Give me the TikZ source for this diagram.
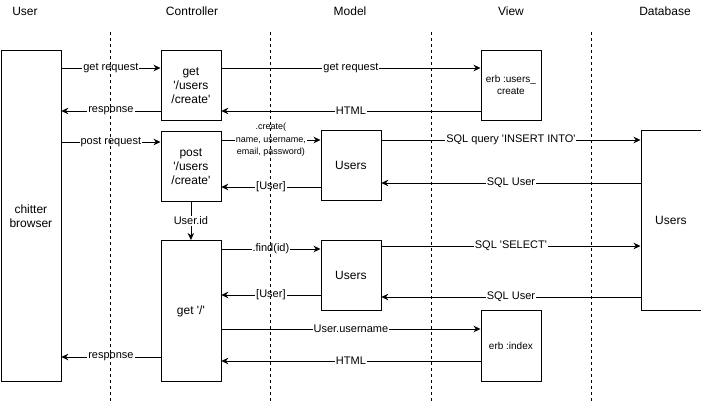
\documentclass[tikz,border=0pt]{standalone}
\usepackage{fontspec}
\setmainfont{Liberation Sans}
\usepackage{tikz}
\usetikzlibrary{arrows.meta, positioning, calc}
\newcommand{\q}{\textquotesingle}

\begin{document}
\begin{tikzpicture}[x=1pt, y=-1pt,
  box/.style={draw, line width=0.8pt, minimum width=60pt, inner sep=2pt, align=center, anchor=north west, font=\fontsize{12}{14}\selectfont},
  small/.style={font=\fontsize{10}{12}\selectfont},
  head/.style={font=\fontsize{12}{14}\selectfont},
  lane/.style={line width=0.7pt, dash pattern=on 3pt off 3pt},
  msg/.style={-{Stealth[length=7pt, width=6.5pt]}, line width=0.8pt},
  lab/.style={fill=white, inner sep=1pt, font=\fontsize{11}{13}\selectfont}
]
\useasboundingbox (0,0) rectangle (701,402);

% column headers
\node[head] (hUser) at (25,11) {User};
\node[head] (hCtl) at (192,11) {Controller};
\node[head] (hModel) at (350,11) {Model};
\node[head] (hView) at (511,11) {View};
\node[head] (hDb) at (665,11) {Database};

% boxes
\node[box, minimum height=331pt] (browser) at (0.5,50) {chitter\\browser};
\node[box, minimum height=70pt] (getform) at (160.5,50) {get\\\q/users\\/create\q};
\node[box, small, minimum height=70pt] (erbcreate) at (480.5,50) {erb :users\_\\create};
\node[box, minimum height=70pt] (postform) at (160.5,131) {post\\\q/users\\/create\q};
\node[box, minimum height=70pt] (modelone) at (320.5,130) {Users};
\node[box, minimum height=180pt] (dbusers) at (640.5,130) {Users};
\node[box, minimum height=141pt] (home) at (160.5,240) {get \q/\q};
\node[box, minimum height=70pt] (modeltwo) at (320.5,240) {Users};
\node[box, small, minimum height=71pt] (erbindex) at (480.5,310) {erb :index};

% message rows
\foreach \n/\y in {rGet/68, rResp/111, rPost/142, rCreate/140, rBack/187, rSqlBack/183,
                   rFind/249, rSelect/246, rBackTwo/295, rSqlTwo/297, rName/329, rHtml/361, rRespTwo/357}
  \coordinate (\n) at (0,\y);

% get /users/create
\draw[msg] (browser.east |- rGet) -- node[lab] {get request} (getform.west |- rGet);
\draw[msg] (getform.east |- rGet) -- node[lab] {get request} (erbcreate.west |- rGet);
\draw[msg] (erbcreate.west |- rResp) -- node[lab] {HTML} (getform.east |- rResp);
\draw[msg] (getform.west |- rResp) -- node[lab] {response} (browser.east |- rResp);

% post /users/create
\draw[msg] (browser.east |- rPost) -- node[lab] {post request} (postform.west |- rPost);
\draw[msg] (postform.east |- rCreate) -- node[lab, align=center, font=\fontsize{9}{12.5}\selectfont] {.create(\\name, username,\\email, password)} (modelone.west |- rCreate);
\draw[msg] (modelone.east |- rCreate) -- node[lab] {SQL query \q INSERT INTO\q} (dbusers.west |- rCreate);
\draw[msg] (dbusers.west |- rSqlBack) -- node[lab] {SQL User} (modelone.east |- rSqlBack);
\draw[msg] (modelone.west |- rBack) -- node[lab] {[User]} (postform.east |- rBack);
\draw[msg] (postform) -- node[lab] {User.id} (home);

% get /
\draw[msg] (home.east |- rFind) -- node[lab] {.find(id)} (modeltwo.west |- rFind);
\draw[msg] (modeltwo.east |- rSelect) -- node[lab] {SQL \q SELECT\q} (dbusers.west |- rSelect);
\draw[msg] (dbusers.west |- rSqlTwo) -- node[lab] {SQL User} (modeltwo.east |- rSqlTwo);
\draw[msg] (modeltwo.west |- rBackTwo) -- node[lab] {[User]} (home.east |- rBackTwo);
\draw[msg] (home.east |- rName) -- node[lab] {User.username} (erbindex.west |- rName);
\draw[msg] (erbindex.west |- rHtml) -- node[lab] {HTML} (home.east |- rHtml);
\draw[msg] (home.west |- rRespTwo) -- node[lab] {response} (browser.east |- rRespTwo);

% lanes
\foreach \x in {110,270,431,591}
  \draw[lane] (\x,32) -- (\x,402);

\end{tikzpicture}
\end{document}
